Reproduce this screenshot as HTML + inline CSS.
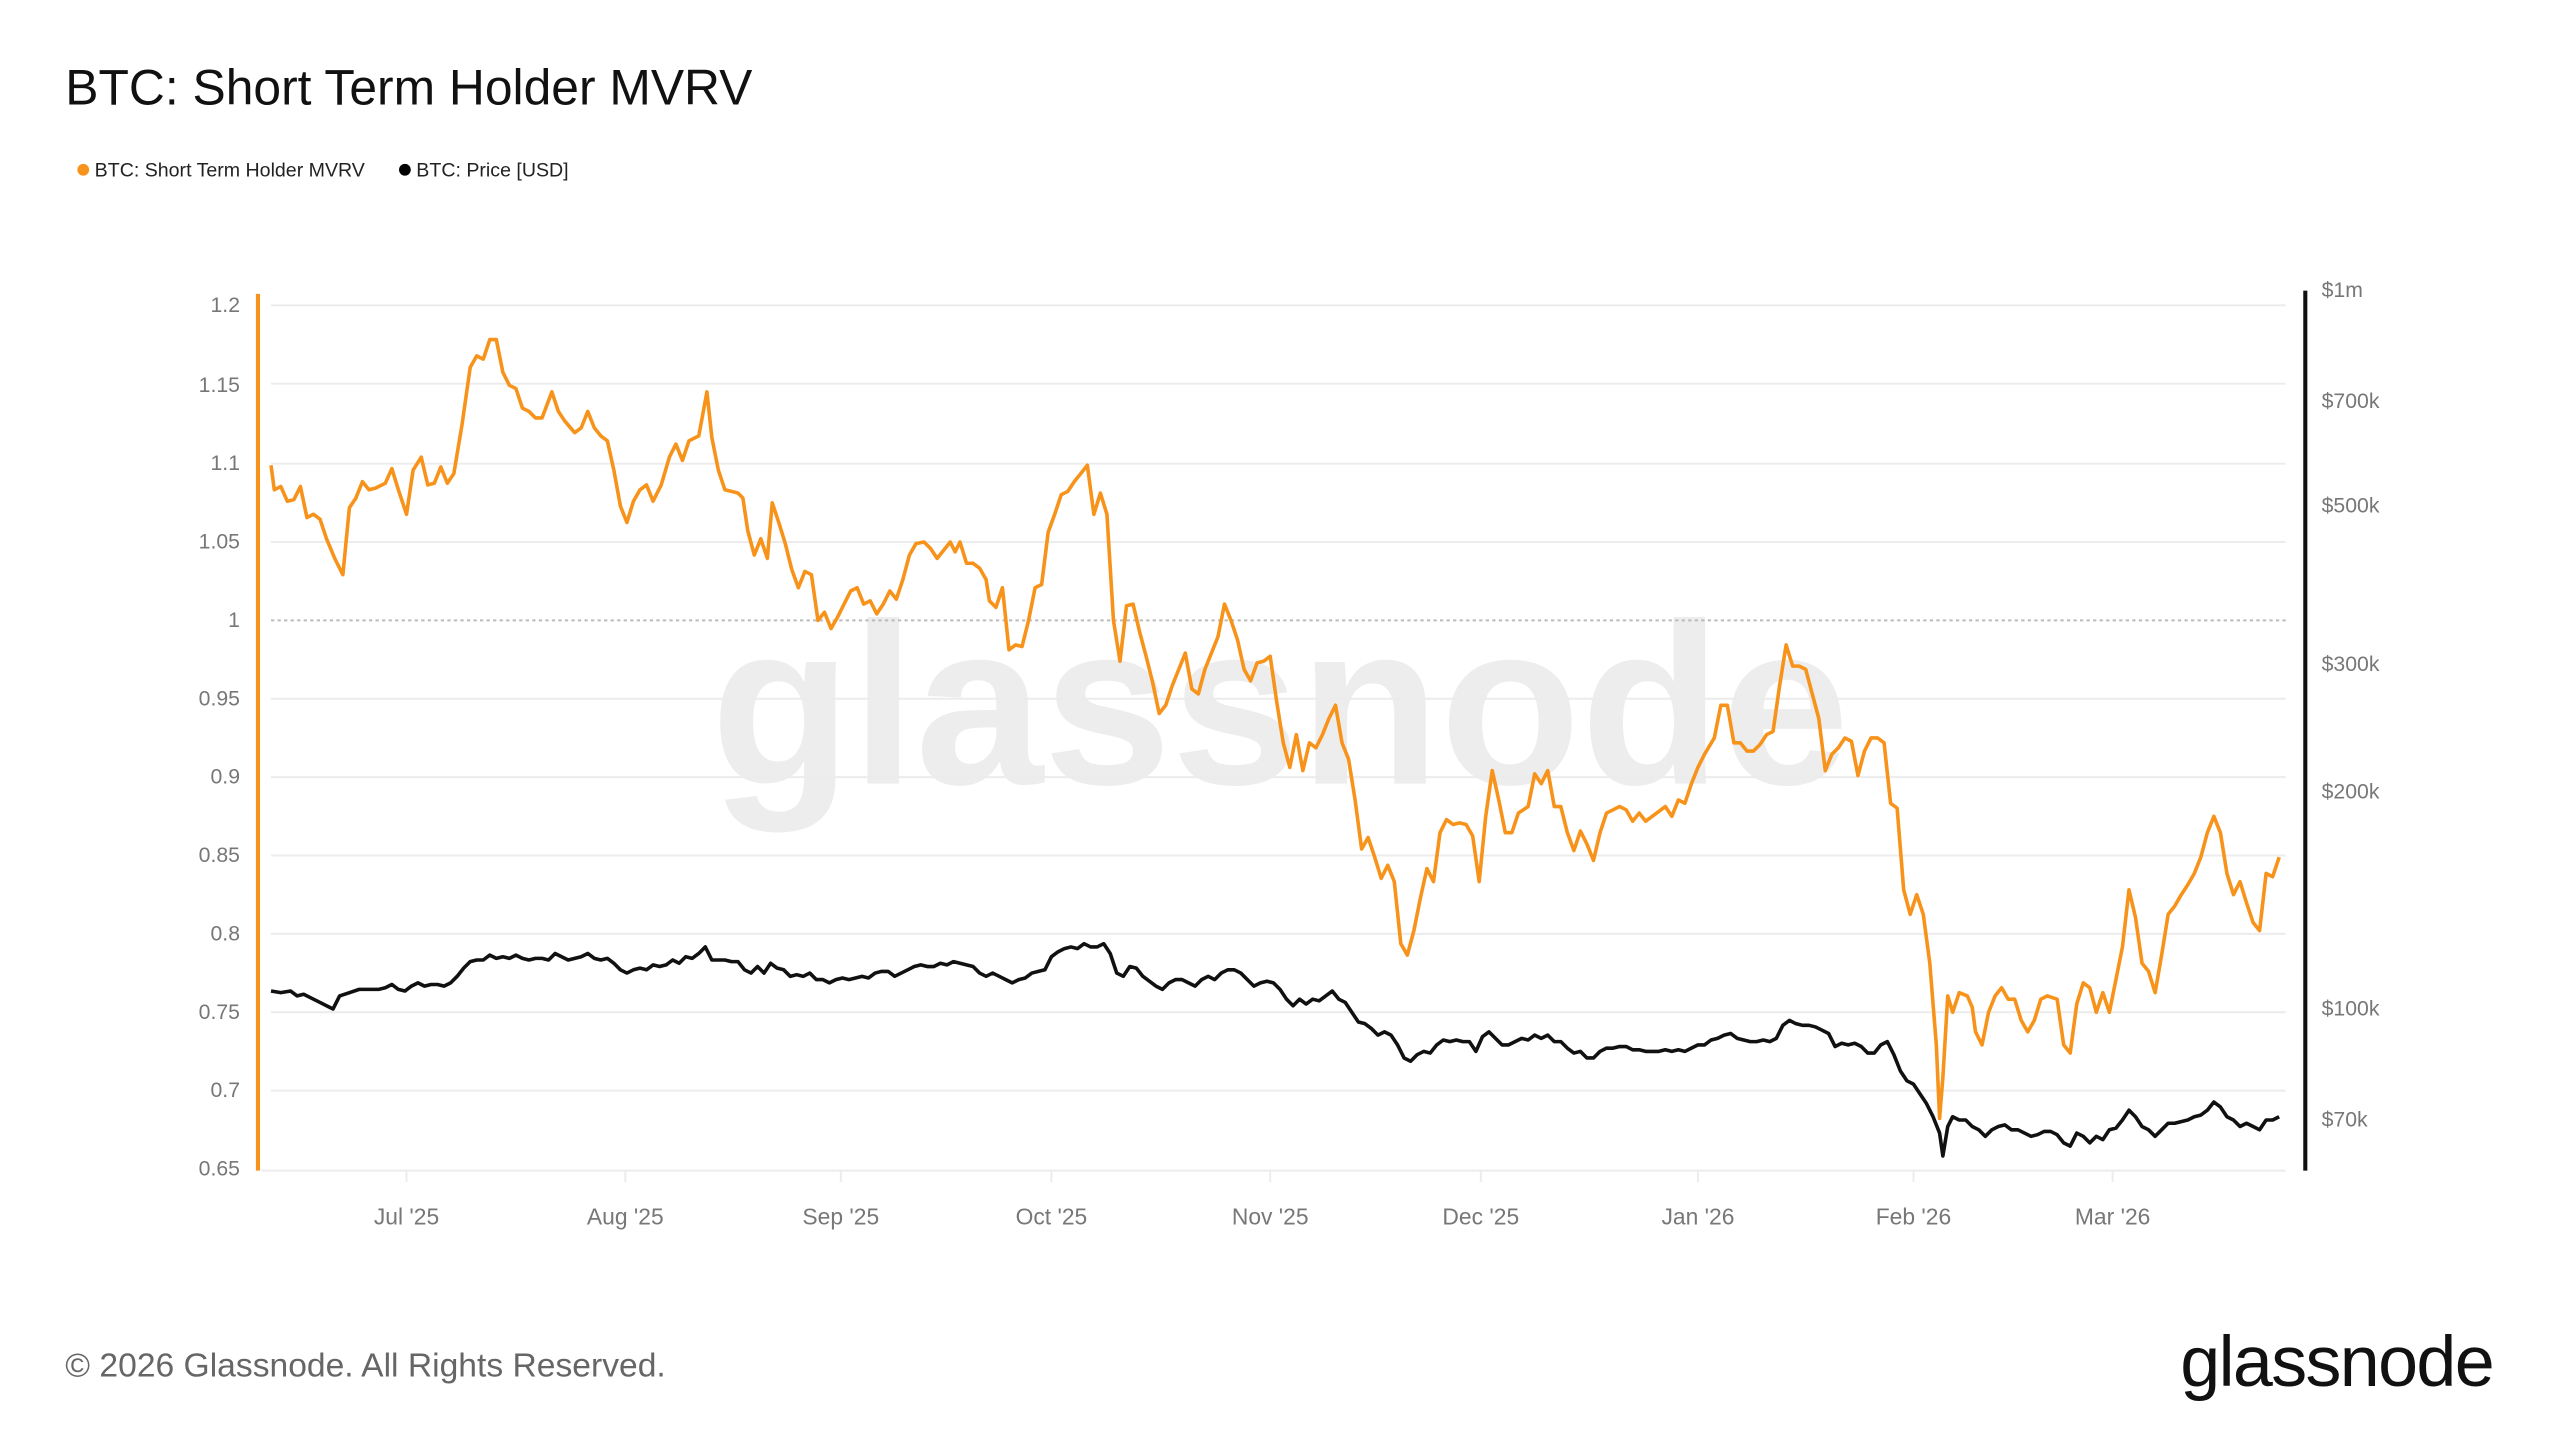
<!DOCTYPE html>
<html><head><meta charset="utf-8"><style>html,body{margin:0;padding:0;background:#fff;}svg{display:block}</style></head>
<body>
<svg width="2560" height="1440" viewBox="0 0 1568 882" preserveAspectRatio="none" xmlns="http://www.w3.org/2000/svg" font-family="Liberation Sans, sans-serif">
<rect width="1568" height="882" fill="#fff"/>
<text x="40" y="64" font-size="30.5" fill="#111">BTC: Short Term Holder MVRV</text>
<circle cx="51" cy="104" r="3.6" fill="#f7931a"/>
<text x="58" y="108" font-size="12" fill="#222">BTC: Short Term Holder MVRV</text>
<circle cx="248" cy="104" r="3.6" fill="#000"/>
<text x="255" y="108" font-size="12" fill="#222">BTC: Price [USD]</text>
<text x="784" y="480" font-size="141" fill="#ededed" text-anchor="middle" font-weight="bold">glassnode</text>
<g stroke="#ececec" stroke-width="1.2">
<line x1="166" y1="187" x2="1400" y2="187"/><line x1="166" y1="235" x2="1400" y2="235"/><line x1="166" y1="284" x2="1400" y2="284"/><line x1="166" y1="332" x2="1400" y2="332"/><line x1="166" y1="428" x2="1400" y2="428"/><line x1="166" y1="476" x2="1400" y2="476"/><line x1="166" y1="524" x2="1400" y2="524"/><line x1="166" y1="572" x2="1400" y2="572"/><line x1="166" y1="620" x2="1400" y2="620"/><line x1="166" y1="668" x2="1400" y2="668"/><line x1="160" y1="717" x2="1400" y2="717"/>
<line x1="249" y1="717" x2="249" y2="724"/><line x1="383" y1="717" x2="383" y2="724"/><line x1="515" y1="717" x2="515" y2="724"/><line x1="644" y1="717" x2="644" y2="724"/><line x1="778" y1="717" x2="778" y2="724"/><line x1="907" y1="717" x2="907" y2="724"/><line x1="1040" y1="717" x2="1040" y2="724"/><line x1="1172" y1="717" x2="1172" y2="724"/><line x1="1294" y1="717" x2="1294" y2="724"/>
</g>
<line x1="166" y1="380" x2="1400" y2="380" stroke="#bbb" stroke-width="1.2" stroke-dasharray="2,2"/>
<line x1="158" y1="180" x2="158" y2="717" stroke="#f7931a" stroke-width="2.5"/>
<line x1="1412" y1="178" x2="1412" y2="717" stroke="#111" stroke-width="2.5"/>
<g font-size="13" fill="#777" text-anchor="end">
<text x="147" y="191">1.2</text><text x="147" y="240">1.15</text><text x="147" y="288">1.1</text><text x="147" y="336">1.05</text><text x="147" y="384">1</text><text x="147" y="432">0.95</text><text x="147" y="480">0.9</text><text x="147" y="528">0.85</text><text x="147" y="576">0.8</text><text x="147" y="624">0.75</text><text x="147" y="672">0.7</text><text x="147" y="720">0.65</text>
</g>
<g font-size="13" fill="#777">
<text x="1422" y="182">$1m</text><text x="1422" y="250">$700k</text><text x="1422" y="314">$500k</text><text x="1422" y="411">$300k</text><text x="1422" y="489">$200k</text><text x="1422" y="622">$100k</text><text x="1422" y="690">$70k</text>
</g>
<g font-size="14" fill="#777" text-anchor="middle">
<text x="249" y="750">Jul '25</text><text x="383" y="750">Aug '25</text><text x="515" y="750">Sep '25</text><text x="644" y="750">Oct '25</text><text x="778" y="750">Nov '25</text><text x="907" y="750">Dec '25</text><text x="1040" y="750">Jan '26</text><text x="1172" y="750">Feb '26</text><text x="1294" y="750">Mar '26</text>
</g>
<polyline fill="none" stroke="#111" stroke-width="2.2" stroke-linejoin="round" points="166,607 172,608 178,607 182,610 186,609 192,612 196,614 200,616 204,618 208,610 214,608 220,606 226,606 232,606 236,605 240,603 244,606 248,607 252,604 256,602 260,604 264,603 268,603 272,604 276,602 280,598 284,593 288,589 292,588 296,588 300,585 304,587 308,586 312,587 316,585 320,587 324,588 328,587 332,587 336,588 340,584 344,586 348,588 352,587 356,586 360,584 364,587 368,588 372,587 376,590 380,594 384,596 388,594 392,593 396,594 400,591 404,592 408,591 412,588 416,590 420,586 424,587 428,584 432,580 436,588 440,588 444,588 448,589 452,589 456,594 460,596 464,592 468,596 472,590 476,593 480,594 484,598 488,597 492,598 496,596 500,600 504,600 508,602 512,600 516,599 520,600 524,599 528,598 532,599 536,596 540,595 544,595 548,598 552,596 556,594 560,592 564,591 568,592 572,592 576,590 580,591 584,589 588,590 592,591 596,592 600,596 604,598 608,596 612,598 616,600 620,602 624,600 628,599 632,596 636,595 640,594 644,586 648,583 652,581 656,580 660,581 664,578 668,580 672,580 676,578 680,584 684,596 688,598 692,592 696,593 700,598 704,601 708,604 712,606 716,602 720,600 724,600 728,602 732,604 736,600 740,598 744,600 748,596 752,594 756,594 760,596 764,600 768,604 772,602 776,601 780,602 784,606 788,612 792,616 796,612 800,615 804,612 808,613 812,610 816,607 820,612 824,614 828,620 832,626 836,627 840,630 844,634 848,632 852,634 856,640 860,648 864,650 868,646 872,644 876,645 880,640 884,637 888,638 892,637 896,638 900,638 904,644 908,635 912,632 916,636 920,640 924,640 928,638 932,636 936,637 940,634 944,636 948,634 952,638 956,638 960,642 964,645 968,644 972,648 976,648 980,644 984,642 988,642 992,641 996,641 1000,643 1004,643 1008,644 1012,644 1016,644 1020,643 1024,644 1028,643 1032,644 1036,642 1040,640 1044,640 1048,637 1052,636 1056,634 1060,633 1064,636 1068,637 1072,638 1076,638 1080,637 1084,638 1088,636 1092,628 1096,625 1100,627 1104,628 1108,628 1112,629 1116,631 1120,633 1124,641 1128,639 1132,640 1136,639 1140,641 1144,645 1148,645 1152,640 1156,638 1160,646 1164,656 1168,662 1172,664 1176,670 1180,676 1184,684 1188,694 1190,708 1193,690 1196,684 1200,686 1204,686 1208,690 1212,692 1216,696 1220,692 1224,690 1228,689 1232,692 1236,692 1240,694 1244,696 1248,695 1252,693 1256,693 1260,695 1264,700 1268,702 1272,694 1276,696 1280,700 1284,696 1288,698 1292,692 1296,691 1300,686 1304,680 1308,684 1312,690 1316,692 1320,696 1324,692 1328,688 1332,688 1336,687 1340,686 1344,684 1348,683 1352,680 1356,675 1360,678 1364,684 1368,686 1372,690 1376,688 1380,690 1384,692 1388,686 1392,686 1396,684"/>
<polyline fill="none" stroke="#f7931a" stroke-width="2.2" stroke-linejoin="round" points="166,285 168,300 172,298 176,307 180,306 184,298 188,317 192,315 196,318 200,330 205,342 210,352 214,311 218,305 222,295 226,300 230,299 236,296 240,287 244,300 249,315 253,288 258,280 262,297 266,296 270,286 274,296 278,290 283,260 288,225 292,218 296,220 300,208 304,208 308,228 312,236 316,238 320,250 324,252 328,256 332,256 338,240 342,252 346,258 352,265 356,262 360,252 364,262 368,267 372,270 376,288 380,310 384,320 388,307 392,300 396,297 400,307 405,297 410,280 414,272 418,282 422,270 428,267 433,240 436,268 440,288 444,300 448,301 452,302 455,305 458,325 462,340 466,330 470,342 473,308 477,320 481,333 485,349 489,360 493,350 497,352 501,380 505,375 509,385 513,378 517,370 521,362 525,360 529,370 533,368 537,376 541,370 545,362 549,367 553,355 557,340 561,333 566,332 570,336 574,342 578,337 582,332 585,338 588,332 592,345 596,345 600,348 604,355 606,368 610,372 614,360 618,398 622,395 626,396 630,380 634,360 638,358 642,326 646,315 650,303 654,301 658,295 662,290 666,285 670,315 674,302 678,315 682,380 686,405 690,371 694,370 698,387 702,402 706,418 710,437 714,432 718,420 722,410 726,400 730,422 734,425 738,410 742,400 746,390 750,370 754,380 758,392 762,410 766,417 770,406 774,405 778,402 782,430 786,455 790,470 794,450 798,472 802,455 806,458 810,450 814,440 818,432 822,455 826,465 830,490 834,520 838,513 842,525 846,538 850,530 854,540 858,578 862,585 866,570 870,550 874,532 878,540 882,510 886,502 890,505 894,504 898,505 902,512 906,540 910,500 914,472 918,490 922,510 926,510 930,498 936,494 940,474 944,480 948,472 952,494 956,494 960,510 964,521 968,509 972,517 976,527 980,510 984,498 988,496 992,494 996,496 1000,503 1004,498 1008,503 1012,500 1016,497 1020,494 1024,500 1028,490 1032,492 1036,480 1040,470 1044,462 1050,452 1054,432 1058,432 1062,455 1066,455 1070,460 1074,460 1078,456 1082,450 1086,448 1090,420 1094,395 1098,408 1102,408 1106,410 1110,425 1114,440 1118,472 1122,462 1126,458 1130,452 1134,454 1138,475 1142,460 1146,452 1150,452 1154,455 1158,492 1162,495 1166,545 1170,560 1174,548 1178,560 1182,590 1186,640 1188,685 1190,660 1193,610 1196,620 1200,608 1205,610 1208,617 1210,632 1214,640 1218,620 1222,610 1226,605 1230,612 1234,612 1238,625 1242,632 1246,625 1250,612 1254,610 1260,612 1264,640 1268,645 1272,615 1276,602 1280,605 1284,620 1288,608 1292,620 1296,600 1300,580 1304,545 1308,562 1312,590 1316,595 1320,608 1324,585 1328,560 1332,555 1336,548 1340,542 1344,535 1348,525 1352,510 1356,500 1360,510 1364,535 1368,548 1372,540 1376,553 1380,565 1384,570 1388,535 1392,537 1396,525"/>
<text x="40" y="843" font-size="20.6" fill="#666">© 2026 Glassnode. All Rights Reserved.</text>
<text x="1527" y="849" font-size="44" fill="#111" text-anchor="end" letter-spacing="-1">glassnode</text>
</svg>
</body></html>
